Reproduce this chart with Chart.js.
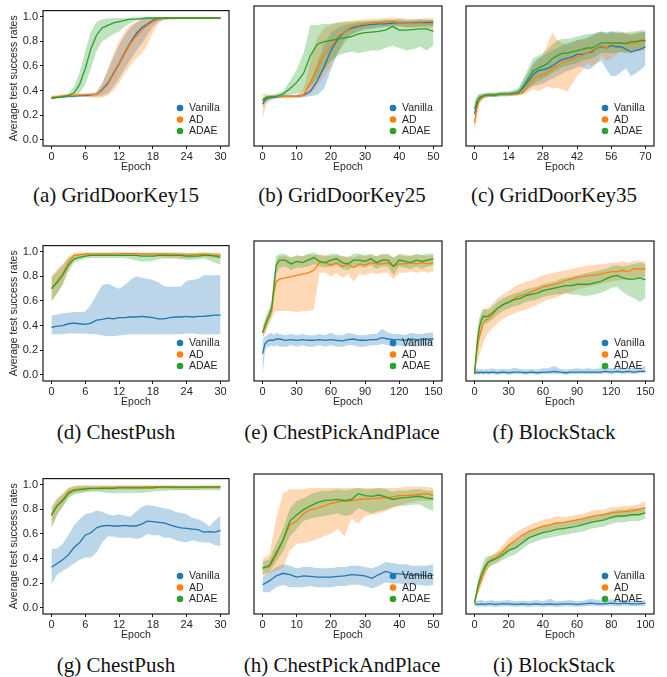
<!DOCTYPE html>
<html>
<head>
<meta charset="utf-8">
<script src="https://cdn.jsdelivr.net/npm/chart.js@4.4.1/dist/chart.umd.min.js"></script>
<style>
  body { margin: 0; background: #fff; }
  #fig { position: relative; width: 667px; height: 677px; overflow: hidden; }
  .panel { position: absolute; }
  .cap {
    position: absolute; width: 240px; text-align: center; white-space: nowrap;
    font-family: "Liberation Serif", "Times New Roman", serif;
    font-size: 21px; line-height: 24px; color: #111;
  }
  .cap .gap { display: inline-block; width: 0.25em; }
</style>
</head>
<body>
<div id="fig"></div>
<script>
// ==========================
// DATA
// ==========================

const seriesNames = ["Vanilla", "AD", "ADAE"];
const captionTags = ["(a)", "(b)", "(c)", "(d)", "(e)", "(f)", "(g)", "(h)", "(i)"];
const captionNames = ["GridDoorKey15", "GridDoorKey25", "GridDoorKey35",
    "ChestPush", "ChestPickAndPlace", "BlockStack",
    "ChestPush", "ChestPickAndPlace", "BlockStack"];
const yTicks = [0, 0.2, 0.4, 0.6, 0.8, 1.0];

// (a) GridDoorKey15
const epochsA = [0,1,2,3,4,5,6,7,8,9,10,11,12,13,14,15,16,17,18,19,20,21,22,23,24,25,26,27,28,29,30];
const xTicksA = [0, 6, 12, 18, 24, 30];
const vanA   = [0.34,0.345,0.35,0.355,0.355,0.36,0.36,0.365,0.37,0.41,0.46,0.54,0.62,0.71,0.79,0.86,0.91,0.94,0.97,0.985,0.99,0.99,0.99,0.99,0.99,0.99,0.99,0.99,0.99,0.99,0.99];
const vanLoA = [0.33,0.335,0.34,0.345,0.345,0.35,0.35,0.35,0.355,0.36,0.38,0.43,0.50,0.58,0.65,0.72,0.78,0.85,0.92,0.96,0.975,0.98,0.98,0.985,0.985,0.985,0.985,0.985,0.985,0.985,0.985];
const vanHiA = [0.35,0.355,0.36,0.365,0.365,0.37,0.37,0.375,0.385,0.46,0.56,0.67,0.77,0.85,0.91,0.95,0.975,0.985,0.99,0.995,0.995,0.995,0.995,0.995,0.995,0.995,0.995,0.995,0.995,0.995,0.995];
const adA    = [0.345,0.35,0.355,0.36,0.36,0.365,0.365,0.37,0.37,0.40,0.45,0.53,0.61,0.70,0.78,0.84,0.89,0.93,0.96,0.98,0.99,0.99,0.99,0.99,0.99,0.99,0.99,0.99,0.99,0.99,0.99];
const adLoA  = [0.335,0.34,0.345,0.35,0.35,0.35,0.35,0.345,0.34,0.345,0.36,0.40,0.46,0.54,0.60,0.66,0.70,0.77,0.87,0.95,0.975,0.98,0.985,0.985,0.985,0.985,0.985,0.985,0.985,0.985,0.985];
const adHiA  = [0.36,0.365,0.37,0.37,0.37,0.375,0.38,0.38,0.39,0.46,0.58,0.70,0.80,0.88,0.93,0.96,0.98,0.99,0.995,0.995,0.995,0.995,0.995,0.995,0.995,0.995,0.995,0.995,0.995,0.995,0.995];
const adaeA   = [0.34,0.345,0.35,0.36,0.38,0.45,0.58,0.74,0.85,0.91,0.93,0.95,0.96,0.97,0.98,0.98,0.985,0.99,0.99,0.99,0.99,0.99,0.99,0.99,0.99,0.99,0.99,0.99,0.99,0.99,0.99];
const adaeLoA = [0.33,0.335,0.34,0.345,0.35,0.38,0.45,0.58,0.72,0.80,0.83,0.86,0.88,0.92,0.95,0.97,0.975,0.98,0.98,0.98,0.98,0.98,0.98,0.98,0.98,0.98,0.98,0.98,0.98,0.98,0.98];
const adaeHiA = [0.35,0.355,0.36,0.38,0.43,0.55,0.72,0.88,0.96,0.98,0.985,0.99,0.99,0.99,0.99,0.995,0.995,0.995,0.995,0.995,0.995,0.995,0.995,0.995,0.995,0.995,0.995,0.995,0.995,0.995,0.995];

// (b) GridDoorKey25
const epochsB = [0,1,2,4,6,8,10,12,14,16,18,20,22,24,26,28,30,32,34,36,38,40,42,44,46,48,50];
const xTicksB = [0, 10, 20, 30, 40, 50];
const vanB   = [0.28,0.32,0.33,0.335,0.34,0.34,0.34,0.35,0.38,0.46,0.57,0.70,0.79,0.85,0.875,0.89,0.90,0.905,0.91,0.91,0.915,0.92,0.915,0.915,0.92,0.92,0.925];
const vanLoB = [0.25,0.29,0.31,0.325,0.33,0.33,0.33,0.335,0.34,0.35,0.40,0.55,0.68,0.78,0.83,0.85,0.865,0.87,0.88,0.885,0.89,0.89,0.885,0.885,0.89,0.89,0.895];
const vanHiB = [0.31,0.34,0.345,0.345,0.35,0.35,0.35,0.37,0.45,0.60,0.75,0.84,0.88,0.90,0.91,0.92,0.925,0.93,0.935,0.94,0.94,0.945,0.94,0.94,0.945,0.94,0.945];
const adB    = [0.31,0.33,0.335,0.34,0.34,0.34,0.34,0.35,0.45,0.56,0.67,0.73,0.81,0.85,0.89,0.90,0.91,0.915,0.92,0.92,0.93,0.92,0.915,0.91,0.915,0.91,0.91];
const adLoB  = [0.16,0.27,0.31,0.325,0.33,0.33,0.33,0.33,0.36,0.42,0.50,0.58,0.68,0.76,0.82,0.85,0.87,0.88,0.885,0.89,0.90,0.89,0.88,0.88,0.885,0.88,0.88];
const adHiB  = [0.36,0.36,0.35,0.35,0.35,0.35,0.35,0.40,0.62,0.80,0.88,0.90,0.92,0.93,0.935,0.94,0.945,0.95,0.95,0.955,0.96,0.955,0.95,0.945,0.95,0.955,0.95];
const adaeB   = [0.31,0.33,0.335,0.34,0.36,0.40,0.45,0.52,0.66,0.75,0.77,0.78,0.79,0.80,0.81,0.83,0.84,0.845,0.85,0.86,0.89,0.86,0.86,0.865,0.87,0.87,0.85];
const adaeLoB = [0.29,0.31,0.32,0.33,0.34,0.35,0.36,0.38,0.42,0.48,0.55,0.62,0.66,0.68,0.69,0.68,0.69,0.70,0.70,0.72,0.74,0.72,0.70,0.71,0.73,0.70,0.74];
const adaeHiB = [0.33,0.345,0.35,0.36,0.38,0.46,0.55,0.68,0.90,0.90,0.91,0.91,0.92,0.92,0.925,0.93,0.93,0.935,0.935,0.94,0.94,0.935,0.93,0.935,0.94,0.94,0.93];

// (c) GridDoorKey35
const epochsC = [0,1,2,4,6,8,10,12,14,16,18,20,22,24,26,28,30,32,34,36,38,40,42,44,46,48,50,52,54,56,58,60,62,64,66,68,70];
const xTicksC = [0, 14, 28, 42, 56, 70];
const vanC   = [0.20,0.28,0.32,0.345,0.35,0.35,0.355,0.355,0.355,0.36,0.37,0.41,0.46,0.51,0.54,0.55,0.56,0.58,0.61,0.63,0.64,0.65,0.67,0.67,0.68,0.69,0.72,0.73,0.72,0.74,0.73,0.73,0.71,0.69,0.70,0.71,0.73];
const vanLoC = [0.14,0.24,0.30,0.33,0.335,0.335,0.34,0.34,0.34,0.345,0.35,0.37,0.40,0.42,0.43,0.44,0.46,0.48,0.50,0.52,0.54,0.55,0.57,0.57,0.55,0.56,0.60,0.62,0.55,0.50,0.50,0.53,0.56,0.50,0.52,0.55,0.58];
const vanHiC = [0.28,0.33,0.35,0.36,0.365,0.365,0.37,0.37,0.37,0.38,0.40,0.46,0.53,0.60,0.64,0.66,0.68,0.70,0.72,0.74,0.76,0.77,0.78,0.79,0.80,0.82,0.84,0.85,0.84,0.85,0.84,0.84,0.83,0.82,0.83,0.84,0.85];
const adC    = [0.13,0.25,0.31,0.345,0.35,0.35,0.355,0.355,0.355,0.36,0.36,0.37,0.43,0.48,0.50,0.51,0.53,0.56,0.58,0.61,0.62,0.63,0.65,0.66,0.68,0.70,0.72,0.74,0.72,0.76,0.75,0.76,0.76,0.75,0.76,0.77,0.77];
const adLoC  = [0.06,0.18,0.28,0.33,0.335,0.335,0.34,0.34,0.34,0.345,0.345,0.35,0.37,0.40,0.38,0.40,0.42,0.40,0.41,0.39,0.38,0.44,0.50,0.54,0.60,0.58,0.60,0.66,0.62,0.64,0.67,0.69,0.68,0.67,0.70,0.70,0.70];
const adHiC  = [0.22,0.31,0.35,0.36,0.365,0.365,0.37,0.37,0.37,0.375,0.38,0.42,0.50,0.58,0.62,0.66,0.76,0.84,0.78,0.76,0.74,0.76,0.78,0.78,0.79,0.81,0.83,0.84,0.82,0.84,0.83,0.84,0.84,0.83,0.84,0.85,0.84];
const adaeC   = [0.24,0.30,0.33,0.345,0.35,0.35,0.355,0.36,0.36,0.365,0.37,0.42,0.48,0.54,0.56,0.58,0.60,0.64,0.66,0.68,0.68,0.69,0.70,0.71,0.72,0.72,0.74,0.76,0.76,0.76,0.76,0.76,0.755,0.77,0.77,0.78,0.78];
const adaeLoC = [0.18,0.27,0.31,0.33,0.335,0.335,0.34,0.345,0.345,0.35,0.35,0.37,0.40,0.44,0.46,0.48,0.50,0.53,0.55,0.57,0.58,0.59,0.60,0.62,0.63,0.64,0.66,0.68,0.68,0.68,0.68,0.69,0.68,0.70,0.70,0.71,0.72];
const adaeHiC = [0.30,0.34,0.36,0.365,0.37,0.37,0.375,0.38,0.38,0.39,0.40,0.48,0.56,0.64,0.66,0.68,0.71,0.75,0.78,0.79,0.79,0.80,0.81,0.82,0.83,0.83,0.84,0.85,0.84,0.85,0.85,0.85,0.84,0.85,0.85,0.86,0.86];

// (d) ChestPush
const epochsD = [0,1,2,3,4,5,6,7,8,9,10,11,12,13,14,15,16,17,18,19,20,21,22,23,24,25,26,27,28,29,30];
const xTicksD = [0, 6, 12, 18, 24, 30];
const vanD   = [0.386,0.395,0.40,0.415,0.42,0.415,0.41,0.42,0.445,0.45,0.46,0.455,0.465,0.465,0.47,0.47,0.475,0.47,0.465,0.455,0.455,0.465,0.47,0.47,0.475,0.47,0.475,0.475,0.48,0.485,0.485];
const vanLoD = [0.33,0.33,0.33,0.335,0.335,0.335,0.335,0.33,0.33,0.32,0.315,0.315,0.32,0.325,0.33,0.33,0.33,0.33,0.33,0.33,0.33,0.33,0.33,0.33,0.335,0.335,0.33,0.33,0.33,0.33,0.33];
const vanHiD = [0.48,0.49,0.50,0.505,0.51,0.51,0.515,0.57,0.65,0.73,0.74,0.72,0.70,0.73,0.77,0.80,0.79,0.78,0.77,0.75,0.72,0.715,0.715,0.72,0.765,0.77,0.78,0.81,0.81,0.81,0.81];
const adD    = [0.70,0.76,0.82,0.91,0.97,0.975,0.98,0.98,0.98,0.98,0.98,0.98,0.985,0.985,0.985,0.985,0.98,0.98,0.98,0.98,0.98,0.98,0.98,0.975,0.97,0.975,0.975,0.98,0.975,0.97,0.97];
const adLoD  = [0.59,0.66,0.74,0.86,0.94,0.955,0.96,0.965,0.965,0.965,0.965,0.965,0.97,0.97,0.97,0.97,0.965,0.965,0.96,0.96,0.955,0.95,0.95,0.945,0.945,0.95,0.955,0.96,0.955,0.95,0.95];
const adHiD  = [0.80,0.86,0.90,0.96,0.99,0.995,0.995,0.995,0.995,0.995,0.995,0.995,0.995,0.995,0.995,0.995,0.995,0.995,0.995,0.995,0.995,0.995,0.995,0.995,0.99,0.99,0.995,0.995,0.995,0.99,0.99];
const adaeD   = [0.70,0.75,0.81,0.89,0.94,0.955,0.965,0.97,0.97,0.97,0.97,0.97,0.97,0.97,0.97,0.97,0.965,0.965,0.965,0.97,0.97,0.97,0.97,0.97,0.965,0.965,0.965,0.97,0.97,0.965,0.955];
const adaeLoD = [0.60,0.66,0.73,0.84,0.91,0.93,0.945,0.95,0.95,0.95,0.95,0.95,0.95,0.95,0.94,0.93,0.92,0.92,0.925,0.94,0.945,0.945,0.945,0.94,0.935,0.935,0.94,0.945,0.93,0.91,0.895];
const adaeHiD = [0.79,0.84,0.89,0.95,0.975,0.985,0.99,0.99,0.99,0.99,0.99,0.99,0.99,0.99,0.99,0.99,0.99,0.99,0.99,0.99,0.99,0.99,0.99,0.99,0.99,0.99,0.99,0.99,0.99,0.99,0.985];

// (e) ChestPickAndPlace
const epochsE = [0,2,4,6,8,10,12,15,20,25,30,35,40,45,50,55,60,65,70,75,80,85,90,95,100,105,110,115,120,125,130,135,140,145,150];
const xTicksE = [0, 30, 60, 90, 120, 150];
const vanE   = [0.165,0.24,0.26,0.27,0.27,0.27,0.28,0.28,0.27,0.275,0.27,0.275,0.27,0.27,0.275,0.27,0.275,0.27,0.265,0.275,0.28,0.27,0.27,0.275,0.275,0.29,0.28,0.275,0.275,0.27,0.28,0.275,0.275,0.28,0.28];
const vanLoE = [0.00,0.17,0.22,0.22,0.23,0.22,0.23,0.22,0.22,0.23,0.22,0.23,0.22,0.22,0.23,0.22,0.23,0.22,0.22,0.23,0.23,0.22,0.22,0.23,0.23,0.24,0.23,0.22,0.23,0.22,0.23,0.22,0.23,0.23,0.23];
const vanHiE = [0.27,0.30,0.31,0.32,0.33,0.31,0.33,0.32,0.31,0.32,0.31,0.32,0.31,0.31,0.32,0.31,0.33,0.31,0.31,0.33,0.32,0.31,0.31,0.32,0.32,0.36,0.33,0.32,0.32,0.31,0.33,0.32,0.32,0.33,0.33];
const adE    = [0.33,0.37,0.42,0.46,0.50,0.64,0.73,0.75,0.76,0.77,0.78,0.79,0.80,0.82,0.88,0.88,0.86,0.88,0.85,0.87,0.84,0.87,0.86,0.88,0.87,0.87,0.88,0.85,0.87,0.87,0.88,0.87,0.88,0.87,0.88];
const adLoE  = [0.29,0.32,0.36,0.40,0.44,0.48,0.50,0.50,0.50,0.50,0.49,0.50,0.50,0.51,0.80,0.80,0.77,0.80,0.76,0.79,0.73,0.79,0.78,0.80,0.79,0.80,0.80,0.75,0.80,0.80,0.81,0.80,0.81,0.80,0.81];
const adHiE  = [0.37,0.42,0.47,0.51,0.57,0.76,0.90,0.93,0.93,0.92,0.93,0.93,0.94,0.94,0.94,0.94,0.93,0.94,0.93,0.93,0.92,0.94,0.93,0.94,0.93,0.94,0.94,0.92,0.94,0.93,0.94,0.94,0.94,0.93,0.94];
const adaeE   = [0.33,0.38,0.43,0.47,0.52,0.69,0.86,0.90,0.90,0.87,0.89,0.88,0.90,0.92,0.89,0.88,0.90,0.91,0.88,0.87,0.90,0.90,0.89,0.91,0.88,0.90,0.90,0.85,0.90,0.89,0.88,0.90,0.89,0.90,0.91];
const adaeLoE = [0.29,0.33,0.38,0.42,0.46,0.60,0.79,0.84,0.85,0.82,0.84,0.84,0.85,0.87,0.85,0.84,0.85,0.86,0.83,0.82,0.85,0.85,0.84,0.86,0.83,0.85,0.85,0.78,0.85,0.84,0.83,0.85,0.83,0.85,0.86];
const adaeHiE = [0.37,0.43,0.48,0.52,0.58,0.78,0.93,0.95,0.95,0.92,0.94,0.93,0.95,0.96,0.94,0.93,0.95,0.95,0.93,0.92,0.95,0.95,0.94,0.95,0.93,0.95,0.95,0.92,0.95,0.94,0.93,0.95,0.94,0.95,0.95];

// (f) BlockStack
const epochsF = [0,2,4,6,8,10,12,15,20,25,30,35,40,45,50,55,60,65,70,75,80,85,90,95,100,105,110,115,120,125,130,135,140,145,150];
const xTicksF = [0, 30, 60, 90, 120, 150];
const vanF   = [0.01,0.02,0.015,0.02,0.015,0.02,0.015,0.02,0.015,0.02,0.015,0.02,0.02,0.015,0.02,0.015,0.02,0.02,0.025,0.02,0.015,0.02,0.02,0.02,0.02,0.02,0.02,0.025,0.02,0.025,0.02,0.025,0.02,0.025,0.025];
const vanLoF = [0.0,0.0,0.0,0.005,0.0,0.005,0.0,0.005,0.0,0.005,0.0,0.005,0.005,0.0,0.005,0.0,0.005,0.005,0.005,0.005,0.0,0.005,0.005,0.005,0.005,0.005,0.005,0.01,0.005,0.01,0.005,0.01,0.005,0.01,0.01];
const vanHiF = [0.02,0.05,0.04,0.045,0.04,0.045,0.04,0.05,0.04,0.045,0.04,0.055,0.045,0.04,0.045,0.04,0.05,0.05,0.07,0.045,0.04,0.045,0.05,0.045,0.05,0.045,0.05,0.06,0.05,0.055,0.05,0.055,0.05,0.055,0.07];
const adF    = [0.01,0.18,0.29,0.35,0.41,0.43,0.44,0.46,0.52,0.55,0.57,0.60,0.62,0.63,0.65,0.67,0.69,0.70,0.71,0.72,0.74,0.75,0.765,0.77,0.78,0.78,0.79,0.80,0.81,0.81,0.82,0.81,0.83,0.83,0.83];
const adLoF  = [0.00,0.08,0.15,0.20,0.26,0.30,0.33,0.36,0.40,0.44,0.46,0.48,0.50,0.51,0.53,0.55,0.57,0.59,0.60,0.62,0.64,0.65,0.67,0.68,0.69,0.70,0.71,0.72,0.73,0.74,0.75,0.74,0.76,0.76,0.77];
const adHiF  = [0.02,0.30,0.42,0.47,0.51,0.52,0.53,0.55,0.60,0.63,0.66,0.69,0.71,0.73,0.74,0.76,0.78,0.79,0.80,0.81,0.82,0.83,0.84,0.85,0.86,0.86,0.87,0.87,0.88,0.88,0.89,0.88,0.89,0.89,0.89];
const adaeF   = [0.01,0.22,0.36,0.43,0.46,0.455,0.46,0.48,0.52,0.55,0.57,0.59,0.60,0.62,0.63,0.64,0.66,0.67,0.68,0.69,0.70,0.70,0.71,0.71,0.71,0.72,0.73,0.75,0.77,0.78,0.76,0.75,0.75,0.76,0.745];
const adaeLoF = [0.00,0.14,0.28,0.36,0.40,0.40,0.41,0.43,0.47,0.50,0.52,0.54,0.55,0.57,0.58,0.59,0.61,0.62,0.63,0.63,0.64,0.63,0.63,0.62,0.62,0.63,0.64,0.66,0.68,0.69,0.65,0.62,0.60,0.57,0.60];
const adaeHiF = [0.02,0.30,0.44,0.50,0.52,0.51,0.51,0.53,0.57,0.60,0.62,0.64,0.65,0.67,0.68,0.69,0.71,0.72,0.73,0.75,0.76,0.77,0.78,0.79,0.80,0.81,0.82,0.83,0.85,0.86,0.85,0.86,0.87,0.88,0.87];

// (g) ChestPush
const epochsG = [0,1,2,3,4,5,6,7,8,9,10,11,12,13,14,15,16,17,18,19,20,21,22,23,24,25,26,27,28,29,30];
const xTicksG = [0, 6, 12, 18, 24, 30];
const vanG   = [0.33,0.36,0.39,0.43,0.49,0.53,0.59,0.61,0.65,0.665,0.67,0.665,0.665,0.67,0.665,0.665,0.68,0.705,0.70,0.695,0.69,0.675,0.66,0.65,0.645,0.64,0.635,0.615,0.62,0.615,0.63];
const vanLoG = [0.19,0.27,0.30,0.33,0.36,0.39,0.41,0.41,0.45,0.53,0.58,0.58,0.57,0.57,0.57,0.56,0.57,0.60,0.59,0.59,0.57,0.57,0.55,0.54,0.53,0.55,0.54,0.53,0.53,0.51,0.50];
const vanHiG = [0.48,0.48,0.52,0.59,0.67,0.72,0.76,0.77,0.79,0.78,0.76,0.75,0.76,0.75,0.74,0.78,0.82,0.835,0.83,0.82,0.81,0.80,0.78,0.77,0.76,0.73,0.72,0.70,0.66,0.71,0.75];
const adG    = [0.76,0.83,0.88,0.94,0.96,0.965,0.97,0.97,0.97,0.975,0.975,0.975,0.98,0.98,0.98,0.98,0.98,0.985,0.985,0.985,0.985,0.985,0.98,0.98,0.98,0.98,0.98,0.985,0.985,0.985,0.985];
const adLoG  = [0.65,0.76,0.83,0.90,0.93,0.94,0.945,0.95,0.95,0.955,0.955,0.955,0.96,0.96,0.96,0.96,0.96,0.965,0.965,0.965,0.965,0.965,0.96,0.96,0.96,0.96,0.96,0.965,0.965,0.965,0.965];
const adHiG  = [0.82,0.89,0.93,0.975,0.99,0.995,0.995,0.995,0.995,0.995,0.995,0.995,0.995,0.995,0.995,0.995,0.995,0.995,0.995,0.995,0.995,0.995,0.995,0.995,0.995,0.995,0.995,0.995,0.995,0.995,0.995];
const adaeG   = [0.75,0.83,0.87,0.93,0.955,0.96,0.965,0.97,0.97,0.97,0.97,0.97,0.975,0.975,0.975,0.975,0.975,0.975,0.975,0.98,0.98,0.98,0.98,0.98,0.98,0.98,0.98,0.98,0.98,0.98,0.98];
const adaeLoG = [0.65,0.75,0.82,0.89,0.92,0.93,0.94,0.945,0.945,0.94,0.93,0.93,0.93,0.93,0.93,0.935,0.93,0.94,0.945,0.95,0.95,0.955,0.955,0.955,0.955,0.955,0.955,0.955,0.955,0.955,0.955];
const adaeHiG = [0.81,0.88,0.92,0.97,0.985,0.99,0.99,0.99,0.99,0.99,0.99,0.99,0.99,0.99,0.99,0.99,0.99,0.99,0.99,0.99,0.99,0.99,0.99,0.99,0.99,0.99,0.99,0.99,0.99,0.99,0.99];

// (h) ChestPickAndPlace
const epochsH = [0,2,4,6,8,10,12,14,16,18,20,22,24,26,28,30,32,34,36,38,40,42,44,46,48,50];
const xTicksH = [0, 10, 20, 30, 40, 50];
const vanH   = [0.18,0.21,0.25,0.27,0.26,0.24,0.25,0.245,0.24,0.24,0.24,0.245,0.25,0.26,0.255,0.25,0.23,0.26,0.285,0.27,0.265,0.26,0.255,0.255,0.25,0.255];
const vanLoH = [0.12,0.12,0.16,0.18,0.16,0.16,0.16,0.17,0.16,0.16,0.16,0.17,0.17,0.18,0.18,0.17,0.15,0.17,0.20,0.19,0.19,0.18,0.18,0.18,0.17,0.18];
const vanHiH = [0.24,0.28,0.32,0.34,0.33,0.31,0.32,0.32,0.31,0.31,0.31,0.32,0.32,0.33,0.33,0.32,0.31,0.33,0.36,0.35,0.34,0.34,0.33,0.33,0.33,0.34];
const adH    = [0.31,0.32,0.41,0.53,0.65,0.68,0.74,0.77,0.78,0.80,0.82,0.83,0.84,0.84,0.85,0.855,0.855,0.86,0.86,0.87,0.88,0.88,0.885,0.89,0.895,0.88];
const adLoH  = [0.25,0.27,0.29,0.31,0.45,0.50,0.51,0.52,0.54,0.56,0.58,0.62,0.56,0.70,0.66,0.72,0.73,0.74,0.76,0.78,0.80,0.82,0.83,0.84,0.84,0.84];
const adHiH  = [0.38,0.42,0.70,0.90,0.93,0.93,0.93,0.94,0.94,0.94,0.94,0.94,0.94,0.94,0.94,0.94,0.94,0.94,0.94,0.94,0.94,0.95,0.95,0.95,0.95,0.94];
const adaeH   = [0.31,0.33,0.43,0.53,0.68,0.73,0.77,0.80,0.825,0.84,0.845,0.85,0.84,0.85,0.895,0.88,0.875,0.885,0.87,0.85,0.86,0.865,0.87,0.875,0.86,0.855];
const adaeLoH = [0.26,0.28,0.36,0.44,0.56,0.62,0.68,0.70,0.71,0.72,0.73,0.74,0.72,0.73,0.78,0.76,0.74,0.76,0.77,0.79,0.80,0.80,0.81,0.81,0.78,0.76];
const adaeHiH = [0.36,0.38,0.50,0.62,0.78,0.84,0.86,0.89,0.91,0.92,0.92,0.93,0.92,0.93,0.94,0.93,0.93,0.94,0.93,0.91,0.92,0.92,0.93,0.93,0.92,0.92];

// (i) BlockStack
const epochsI = [0,2,4,6,8,10,12,16,20,24,28,32,36,40,44,48,52,56,60,64,68,72,76,80,84,88,92,96,100];
const xTicksI = [0, 20, 40, 60, 80, 100];
const vanI   = [0.03,0.025,0.03,0.025,0.03,0.03,0.025,0.03,0.03,0.025,0.03,0.025,0.03,0.025,0.03,0.025,0.03,0.03,0.025,0.03,0.035,0.03,0.03,0.035,0.03,0.035,0.03,0.03,0.035];
const vanLoI = [0.01,0.005,0.01,0.005,0.01,0.01,0.005,0.01,0.01,0.005,0.01,0.005,0.01,0.005,0.01,0.005,0.01,0.01,0.005,0.01,0.015,0.01,0.01,0.015,0.01,0.015,0.01,0.01,0.015];
const vanHiI = [0.05,0.055,0.06,0.05,0.055,0.06,0.05,0.055,0.06,0.05,0.055,0.05,0.06,0.05,0.07,0.05,0.055,0.06,0.05,0.055,0.07,0.06,0.055,0.065,0.06,0.06,0.055,0.055,0.06];
const adI    = [0.04,0.15,0.22,0.30,0.35,0.38,0.39,0.43,0.49,0.53,0.57,0.60,0.62,0.64,0.65,0.665,0.67,0.68,0.69,0.70,0.715,0.725,0.73,0.745,0.75,0.755,0.76,0.77,0.785];
const adLoI  = [0.02,0.10,0.17,0.25,0.31,0.34,0.35,0.39,0.44,0.48,0.52,0.55,0.57,0.59,0.60,0.62,0.62,0.64,0.65,0.66,0.67,0.68,0.69,0.70,0.71,0.71,0.72,0.73,0.74];
const adHiI  = [0.06,0.20,0.28,0.35,0.39,0.41,0.43,0.48,0.55,0.59,0.62,0.65,0.67,0.69,0.70,0.72,0.71,0.72,0.73,0.74,0.76,0.77,0.77,0.79,0.79,0.80,0.80,0.81,0.84];
const adaeI   = [0.04,0.17,0.26,0.32,0.36,0.37,0.38,0.41,0.45,0.47,0.51,0.55,0.57,0.59,0.60,0.615,0.62,0.63,0.64,0.655,0.67,0.68,0.69,0.71,0.72,0.72,0.73,0.73,0.745];
const adaeLoI = [0.02,0.12,0.20,0.26,0.31,0.33,0.34,0.37,0.40,0.42,0.46,0.50,0.52,0.54,0.55,0.56,0.57,0.58,0.59,0.60,0.62,0.63,0.64,0.66,0.67,0.67,0.68,0.68,0.70];
const adaeHiI = [0.06,0.22,0.32,0.39,0.41,0.41,0.42,0.45,0.50,0.52,0.56,0.60,0.62,0.64,0.65,0.67,0.67,0.68,0.69,0.71,0.72,0.73,0.74,0.76,0.77,0.77,0.78,0.78,0.79];


// ==========================
// STYLE / LAYOUT
// ==========================

const lineColors = ["#1f77b4", "#ff7f0e", "#2ca02c"];
const bandColors = ["rgba(31,119,180,0.3)", "rgba(255,127,14,0.3)", "rgba(44,160,44,0.3)"];
const textColor = "#262626";
const sansFont = '"Liberation Sans", Arial, Helvetica, sans-serif';

const colLeft = [0, 252, 464];
const colWidth = [233, 194, 194];
const yAxisWidth = [43, 2, 2];
const rowTop = [2, 237, 470];
const panelHeight = 171;
const capCenter = [116, 342, 554];
const capTop = [183, 420, 653];

const panels = [
    { epochs: epochsA, xTicks: xTicksA, mean: [vanA, adA, adaeA], lo: [vanLoA, adLoA, adaeLoA], hi: [vanHiA, adHiA, adaeHiA] },
    { epochs: epochsB, xTicks: xTicksB, mean: [vanB, adB, adaeB], lo: [vanLoB, adLoB, adaeLoB], hi: [vanHiB, adHiB, adaeHiB] },
    { epochs: epochsC, xTicks: xTicksC, mean: [vanC, adC, adaeC], lo: [vanLoC, adLoC, adaeLoC], hi: [vanHiC, adHiC, adaeHiC] },
    { epochs: epochsD, xTicks: xTicksD, mean: [vanD, adD, adaeD], lo: [vanLoD, adLoD, adaeLoD], hi: [vanHiD, adHiD, adaeHiD] },
    { epochs: epochsE, xTicks: xTicksE, mean: [vanE, adE, adaeE], lo: [vanLoE, adLoE, adaeLoE], hi: [vanHiE, adHiE, adaeHiE] },
    { epochs: epochsF, xTicks: xTicksF, mean: [vanF, adF, adaeF], lo: [vanLoF, adLoF, adaeLoF], hi: [vanHiF, adHiF, adaeHiF] },
    { epochs: epochsG, xTicks: xTicksG, mean: [vanG, adG, adaeG], lo: [vanLoG, adLoG, adaeLoG], hi: [vanHiG, adHiG, adaeHiG] },
    { epochs: epochsH, xTicks: xTicksH, mean: [vanH, adH, adaeH], lo: [vanLoH, adLoH, adaeLoH], hi: [vanHiH, adHiH, adaeHiH] },
    { epochs: epochsI, xTicks: xTicksI, mean: [vanI, adI, adaeI], lo: [vanLoI, adLoI, adaeLoI], hi: [vanHiI, adHiI, adaeHiI] }
];

const pts = (xs, ys) => xs.map((x, i) => ({ x: x, y: ys[i] }));


// ==========================
// PLUGINS
// ==========================

// box round the plot area
const framePlugin = {
    id: "frame",
    afterDatasetsDraw(chart) {
        const { ctx, chartArea: a } = chart;
        ctx.save();
        ctx.strokeStyle = "#1a1a1a";
        ctx.lineWidth = 1.2;
        ctx.strokeRect(a.left, a.top, a.right - a.left, a.bottom - a.top);
        ctx.restore();
    }
};

// legend inside the lower right corner
const innerLegend = {
    id: "innerLegend",
    afterDraw(chart) {
        const { ctx, chartArea: a } = chart;
        ctx.save();
        ctx.font = "10.5px " + sansFont;
        ctx.textBaseline = "middle";
        seriesNames.forEach((name, i) => {
            const y = a.bottom - 38 + i * 11.5;
            ctx.fillStyle = lineColors[i];
            ctx.beginPath();
            ctx.arc(a.right - 49, y, 3.3, 0, Math.PI * 2);
            ctx.fill();
            ctx.fillStyle = textColor;
            ctx.fillText(name, a.right - 40, y + 0.5);
        });
        ctx.restore();
    }
};


// ==========================
// PANELS
// ==========================

const fig = document.getElementById("fig");

panels.forEach((p, k) => {

    const col = k % 3;
    const row = Math.floor(k / 3);
    const xMax = p.xTicks[p.xTicks.length - 1];

    const box = document.createElement("div");
    box.className = "panel";
    box.style.left = colLeft[col] + "px";
    box.style.top = rowTop[row] + "px";
    box.style.width = colWidth[col] + "px";
    box.style.height = panelHeight + "px";
    const canvas = document.createElement("canvas");
    box.appendChild(canvas);
    fig.appendChild(box);

    const datasets = [];

    // bands: upper filled down to lower
    for (let s = 0; s < 3; s++) {
        datasets.push({
            data: pts(p.epochs, p.hi[s]),
            borderWidth: 0,
            borderColor: "rgba(0,0,0,0)",
            backgroundColor: bandColors[s],
            pointRadius: 0,
            fill: "+1",
            order: 10 - s
        });
        datasets.push({
            data: pts(p.epochs, p.lo[s]),
            borderWidth: 0,
            borderColor: "rgba(0,0,0,0)",
            pointRadius: 0,
            fill: false,
            order: 10 - s
        });
    }

    // mean lines
    for (let s = 0; s < 3; s++) {
        datasets.push({
            label: seriesNames[s],
            data: pts(p.epochs, p.mean[s]),
            borderColor: lineColors[s],
            borderWidth: 1.3,
            pointRadius: 0,
            fill: false,
            order: 3 - s
        });
    }

    new Chart(canvas, {

        type: "line",

        data: { datasets: datasets },

        options: {

            responsive: true,
            maintainAspectRatio: false,
            animation: false,
            events: [],

            layout: {
                padding: { top: 4, right: 4, left: 0, bottom: 0 }
            },

            plugins: {
                legend: { display: false },
                tooltip: { enabled: false }
            },

            scales: {

                x: {
                    type: "linear",
                    min: -0.05 * xMax,
                    max: 1.05 * xMax,
                    afterBuildTicks: s => { s.ticks = p.xTicks.map(v => ({ value: v })); },
                    afterFit: s => { s.height = 27; },
                    grid: { drawOnChartArea: false, drawTicks: true, tickLength: 3, color: "#1a1a1a" },
                    border: { display: false },
                    ticks: {
                        padding: 1,
                        maxRotation: 0,
                        autoSkip: false,
                        color: textColor,
                        font: { family: sansFont, size: 11 },
                        callback: v => String(v)
                    },
                    title: {
                        display: true,
                        text: "Epoch",
                        padding: 0,
                        color: textColor,
                        font: { family: sansFont, size: 10.5 }
                    }
                },

                y: {
                    min: -0.05,
                    max: 1.05,
                    afterBuildTicks: s => { s.ticks = yTicks.map(v => ({ value: v })); },
                    afterFit: s => { s.width = yAxisWidth[col]; },
                    grid: { drawOnChartArea: false, drawTicks: col === 0, tickLength: 3, color: "#1a1a1a" },
                    border: { display: false },
                    ticks: {
                        display: col === 0,
                        padding: 2,
                        color: textColor,
                        font: { family: sansFont, size: 11 },
                        callback: v => v.toFixed(1)
                    },
                    title: {
                        display: col === 0,
                        text: "Average test success rates",
                        padding: { top: 8, bottom: 0 },
                        color: textColor,
                        font: { family: sansFont, size: 10.5 }
                    }
                }

            }

        },

        plugins: [framePlugin, innerLegend]

    });

    // caption under the panel
    const cap = document.createElement("div");
    cap.className = "cap";
    cap.style.left = (capCenter[col] - 120) + "px";
    cap.style.top = capTop[row] + "px";
    cap.appendChild(document.createTextNode(captionTags[k]));
    const gap = document.createElement("span");
    gap.className = "gap";
    cap.appendChild(gap);
    cap.appendChild(document.createTextNode(captionNames[k]));
    fig.appendChild(cap);

});
</script>
</body>
</html>
